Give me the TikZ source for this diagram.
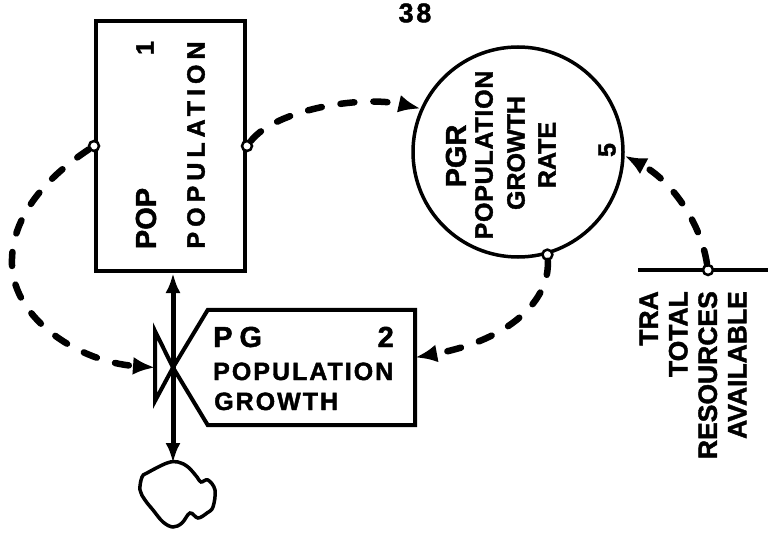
\documentclass[tikz,border=0pt]{standalone}
\usepackage{fontspec}
\setmainfont{Liberation Sans}[BoldFeatures={FakeBold=1.6}]
\usetikzlibrary{arrows.meta,calc}

\tikzset{
  outline/.style={draw, line width=4pt},
  info/.style={line width=6.5pt, dash pattern=on 14pt off 19pt, line cap=round,
    -{Latex[length=22pt,width=18pt]}},
  flow/.style={line width=5pt, -{Latex[length=20pt,width=15pt]}},
  tap/.style={circle, draw, fill=white, line width=2.5pt, inner sep=0pt, minimum size=10pt},
  lbl/.style={font=\bfseries\fontsize{25}{28}\selectfont, inner sep=0pt},
  big/.style={font=\bfseries\fontsize{29}{31}\selectfont, inner sep=0pt},
}

\begin{document}
\begin{tikzpicture}[x=1pt,y=-1pt]
\fill[white] (0,0) rectangle (768,540);
\useasboundingbox (0,0) rectangle (768,540);

% page number
\node[font=\bfseries\fontsize{27}{28}\selectfont, inner sep=0pt] (page) at (415,13)
  {\addfontfeature{LetterSpace=10}38};

% level: POP
\node[outline, minimum width=149pt, minimum height=250pt, inner sep=0pt] (pop) at (170.5,146) {};
\node[lbl, rotate=90] (popname) at (196,145) {\addfontfeature{LetterSpace=20}POPULATION};
\node[big, rotate=90] (popcode) at (146,218.5) {POP};
\node[lbl, rotate=90] (popnum) at (145,48) {1};

% auxiliary: PGR
\node[circle, draw, line width=3.5pt, minimum size=210pt, inner sep=0pt] (pgr) at (518,152) {};
\node[big, rotate=90] (pgrcode) at (456,156) {PGR};
\node[lbl, rotate=90] (pgrl1) at (484,155) {\addfontfeature{LetterSpace=3}POPULATION};
\node[lbl, rotate=90] (pgrl2) at (516,153) {GROWTH};
\node[lbl, rotate=90] (pgrl3) at (547,155) {RATE};
\node[lbl, rotate=90] (pgrnum) at (607,150) {5};

% rate: PG with its valve
\node[minimum width=207pt, minimum height=115pt, inner sep=0pt] (pg) at (311.5,367.5) {};
\coordinate (valve) at (173,367.5);
\coordinate (vtop) at (155,331);
\coordinate (vbot) at (155,401);
\coordinate (vin) at (155,367.5);
\draw[outline, line join=miter] (pg.north west) -- (pg.north east) -- (pg.south east)
  -- (pg.south west) -- (valve) -- cycle;
\draw[outline, line join=miter] (vtop) -- (vbot) -- (valve) -- cycle;
\node[big, anchor=base west] (pgcode) at (213,347) {\addfontfeature{LetterSpace=24}PG};
\node[big, anchor=base east] (pgnum) at (394,347) {2};
\node[lbl, anchor=base west] (pgl1) at (213,380) {\addfontfeature{LetterSpace=8}POPULATION};
\node[lbl, anchor=base west] (pgl2) at (214,410) {\addfontfeature{LetterSpace=8}GROWTH};

% sink cloud
\coordinate (sink) at (173,463);
\draw[line width=3.5pt] plot[smooth cycle, tension=0.6] coordinates {
  (147,473) (167,463) (178,462) (188,467) (197,477) (201,482) (208,480) (215,490)
  (213,507) (207,513) (198,518) (190,513) (182,523) (173,527) (163,522) (153,510)
  (145,500) (140,490) (142,477)};

% material flow through the valve
\draw[flow] (valve) -- (valve |- pop.south);
\draw[flow] (valve) -- (sink);

% constant: TRA
\coordinate (traL) at (638,270);
\coordinate (traR) at (768,270);
\draw[line width=3.5pt] (traL) -- (traR);
\node[font=\bfseries\fontsize{26.5}{29.5}\selectfont, inner sep=0pt, rotate=90,
  anchor=east, align=right] (tra) at (693,291) {TRA\\TOTAL\\RESOURCES\\AVAILABLE};

% pick-off points
\node[tap] (popL) at (pop.west) {};
\node[tap] (popR) at (pop.east) {};
\node[tap] (pgrB) at (pgr.-74) {};
\node[tap] (traT) at (708,270) {};

% information links
\draw[info] (popL) .. controls (50,175) and (10,215) .. (12,265)
  .. controls (14,320) and (80,362) .. (vin);
\draw[info] (popR) .. controls (275,110) and (360,95) .. (pgr.156);
\draw[info] (pgrB) .. controls (550,300) and (510,340) .. ([yshift=10pt]pg.east);
\draw[info] (traT) .. controls (700,220) and (670,180) .. (pgr.-2);
\end{tikzpicture}
\end{document}
